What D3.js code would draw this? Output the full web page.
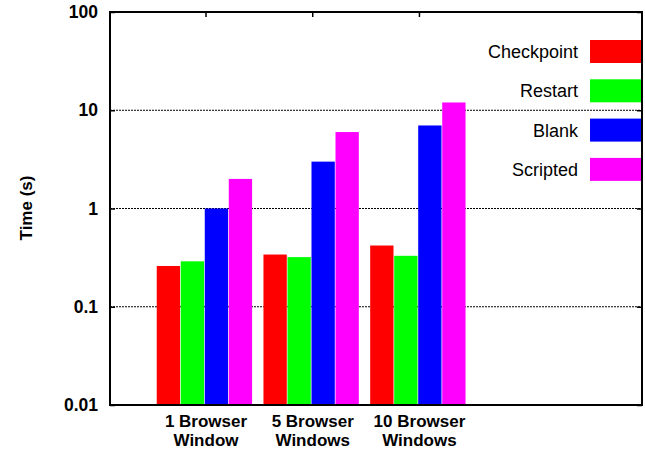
<!DOCTYPE html>
<html>
<head>
<meta charset="utf-8">
<script src="https://cdn.jsdelivr.net/npm/d3@7"></script>
<style>
  html, body { margin: 0; padding: 0; background: #fff; }
  svg { display: block; }
  text { font-family: "Liberation Sans", Arial, sans-serif; fill: #000; }
</style>
</head>
<body>
<svg id="chart" width="645" height="453"></svg>
<script>
// Categories (each label split across two lines) and the series drawn per category
const categories = [["1 Browser", "Window"], ["5 Browser", "Windows"], ["10 Browser", "Windows"]];
const seriesNames = ["Checkpoint", "Restart", "Blank", "Scripted"];
const seriesColors = ["#ff0000", "#00ff00", "#0000ff", "#ff00ff"];

// Time in seconds, one array per series, ordered as the categories
const checkpoint = [0.26, 0.34, 0.42];
const restart    = [0.29, 0.32, 0.33];
const blank      = [1.0, 3.0, 7.0];
const scripted   = [2.0, 6.0, 12.0];
const seriesValues = [checkpoint, restart, blank, scripted];

const yTicks = [0.01, 0.1, 1, 10, 100];
const yTickLabels = ["0.01", "0.1", "1", "10", "100"];

const svg = d3.select("#chart");
const plotL = 110, plotR = 642, plotT = 12, plotB = 405;

// category index → pixel; x-range padded so the plot has room on the right for the key
const x = d3.scaleLinear().domain([-0.895, 4.09]).range([plotL, plotR]);
const y = d3.scaleLog().domain([0.01, 100]).range([plotB, plotT]);

const barW = 0.2185, barStep = 0.225, groupStart = -0.457;

// dotted horizontal grid at each decade (behind bars)
svg.append("g").selectAll("line").data(yTicks.slice(1, -1)).join("line")
  .attr("x1", plotL).attr("x2", plotR)
  .attr("y1", d => y(d)).attr("y2", d => y(d))
  .attr("stroke", "#000").attr("stroke-width", 1)
  .attr("stroke-dasharray", "2,1");

// bars
const bars = [];
seriesValues.forEach((vals, s) => vals.forEach((v, c) => bars.push({ s, c, v })));
svg.append("g").selectAll("rect").data(bars).join("rect")
  .attr("x", d => x(d.c + groupStart + d.s * barStep))
  .attr("width", x(barW) - x(0))
  .attr("y", d => y(d.v))
  .attr("height", d => y(0.01) - y(d.v))
  .attr("fill", d => seriesColors[d.s]);

// frame with mirrored ticks
const axisG = svg.append("g");
const yAxis = d3.axisLeft(y).tickValues(yTicks).tickFormat((d, i) => yTickLabels[i])
  .tickSizeInner(-5).tickSizeOuter(0).tickPadding(12);
axisG.append("g").attr("transform", `translate(${plotL},0)`).call(yAxis)
  .call(g => g.select(".domain").remove())
  .call(g => g.selectAll("line").attr("stroke", "#000").attr("stroke-width", 1.5))
  .call(g => g.selectAll("text").attr("font-size", 17.5).attr("font-weight", "bold")
    .attr("font-family", "Liberation Sans, Arial, sans-serif"));
const yAxisR = d3.axisRight(y).tickValues(yTicks).tickFormat("").tickSizeInner(-5).tickSizeOuter(0);
axisG.append("g").attr("transform", `translate(${plotR},0)`).call(yAxisR)
  .call(g => g.select(".domain").remove())
  .call(g => g.selectAll("line").attr("stroke", "#000").attr("stroke-width", 1.5));
const xTop = d3.axisTop(x).tickValues(categories.map((c, i) => i)).tickFormat("").tickSizeInner(-5).tickSizeOuter(0);
axisG.append("g").attr("transform", `translate(0,${plotT})`).call(xTop)
  .call(g => g.select(".domain").remove())
  .call(g => g.selectAll("line").attr("stroke", "#000").attr("stroke-width", 1.5));

svg.append("rect")
  .attr("x", plotL).attr("y", plotT)
  .attr("width", plotR - plotL).attr("height", plotB - plotT)
  .attr("fill", "none").attr("stroke", "#000").attr("stroke-width", 2);

// category labels, two stacked lines each
const catG = svg.append("g").selectAll("g").data(categories).join("g");
catG.selectAll("text").data((d, i) => d.map(t => ({ t, i }))).join("text")
  .attr("text-anchor", "middle")
  .attr("font-size", 17).attr("font-weight", "bold")
  .attr("x", d => x(d.i) + 0.5)
  .attr("y", (d, j) => 427 + j * 19.2)
  .text(d => d.t);

// y-axis title
svg.append("text")
  .attr("transform", "translate(32,208) rotate(-90)")
  .attr("text-anchor", "middle")
  .attr("font-size", 17).attr("font-weight", "bold")
  .text("Time (s)");

// key
const keyTop = 40, keyStep = 39.3;
const key = svg.append("g").selectAll("g").data(seriesNames).join("g")
  .attr("transform", (d, i) => `translate(0,${keyTop + i * keyStep})`);
key.append("rect")
  .attr("x", 590).attr("y", 0).attr("width", 51).attr("height", 23)
  .attr("fill", (d, i) => seriesColors[i]);
key.append("text")
  .attr("x", 578).attr("y", 18)
  .attr("text-anchor", "end")
  .attr("font-size", 18)
  .text(d => d);
</script>
</body>
</html>
